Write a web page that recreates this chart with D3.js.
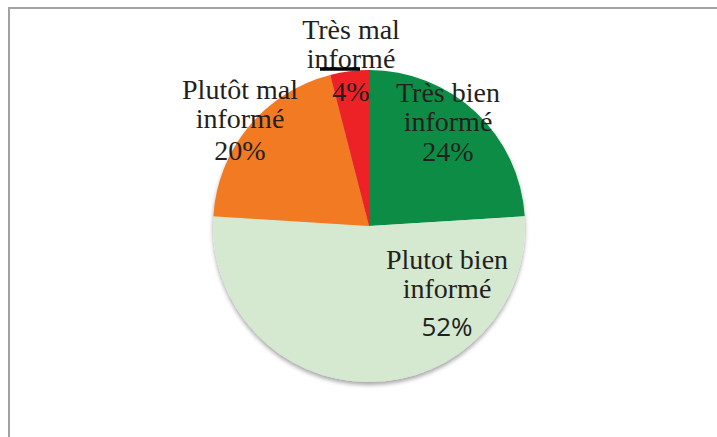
<!DOCTYPE html>
<html>
<head>
<meta charset="utf-8">
<script src="https://cdn.jsdelivr.net/npm/d3@7"></script>
<style>
  body { margin: 0; background: #fff; }
  svg { display: block; }
</style>
</head>
<body>
<div id="chart"></div>
<script>
// données du graphique
var categories = ['Très bien informé', 'Plutot bien informé', 'Plutôt mal informé', 'Très mal informé'];
var valeurs = [24, 52, 20, 4];
var pourcentages = ['24%', '52%', '20%', '4%'];
var couleurs = ['#078c45', '#d5e8d0', '#f27a24', '#ec2227'];

// lignes de texte de chaque étiquette
var lignes = [['Très bien', 'informé'], ['Plutot bien', 'informé'], ['Plutôt mal', 'informé'], ['Très mal', 'informé']];
// position des étiquettes par rapport au centre (x, ligne de base de la 1re ligne), écart du %
var posEtiquettes = [[79, -124, 30], [78, 43, 38], [-129, -127, 32], [-18, -187, 33]];

var W = 717, H = 437;
var cx = 369, cy = 226, rayon = 156;

var svg = d3.select('#chart').append('svg')
    .attr('width', W)
    .attr('height', H);

// ombre portée
var defs = svg.append('defs');
defs.append('filter').attr('id', 'ombre')
    .attr('x', '-10%').attr('y', '-10%').attr('width', '120%').attr('height', '125%')
    .append('feDropShadow')
    .attr('dx', 0).attr('dy', 3).attr('stdDeviation', 2.2)
    .attr('flood-color', '#000').attr('flood-opacity', 0.35);

// cadre
svg.append('rect')
    .attr('x', 9).attr('y', 8)
    .attr('width', W).attr('height', H)
    .attr('fill', 'none')
    .attr('stroke', '#a2a2a6')
    .attr('stroke-width', 2);

var pie = d3.pie().sort(null).value(function(d){ return d; });
var arc = d3.arc().innerRadius(0).outerRadius(rayon);

var grp = svg.append('g').attr('transform', 'translate(' + cx + ',' + cy + ')');

grp.append('g').attr('filter', 'url(#ombre)')
    .selectAll('path').data(pie(valeurs))
    .enter()
    .append('path')
    .attr('fill', function(d, i){ return couleurs[i]; })
    .attr('d', arc);

// étiquettes
categories.forEach(function(cat, i){
    var p = posEtiquettes[i];
    var t = grp.append('text')
        .attr('text-anchor', 'middle')
        .attr('fill', '#231f20')
        .attr('font-family', '"Liberation Serif", "DejaVu Serif", serif')
        .attr('font-size', '28px');
    lignes[i].forEach(function(l, j){
        t.append('tspan')
            .attr('x', p[0])
            .attr('y', p[1] + j * 29)
            .text(l);
    });
    var pct = t.append('tspan')
        .attr('x', p[0])
        .attr('y', p[1] + (lignes[i].length - 1) * 29 + p[2])
        .text(pourcentages[i]);
    if (i === 1) {
        pct.attr('font-family', '"Open Sans", "Noto Sans", sans-serif').attr('font-size', '26px');
    }
});

// petit trait noir sous "informé" (présent sur l'original)
grp.append('line')
    .attr('x1', -49).attr('x2', -9)
    .attr('y1', -157).attr('y2', -157)
    .attr('stroke', '#000')
    .attr('stroke-width', 3.5);
</script>
</body>
</html>
